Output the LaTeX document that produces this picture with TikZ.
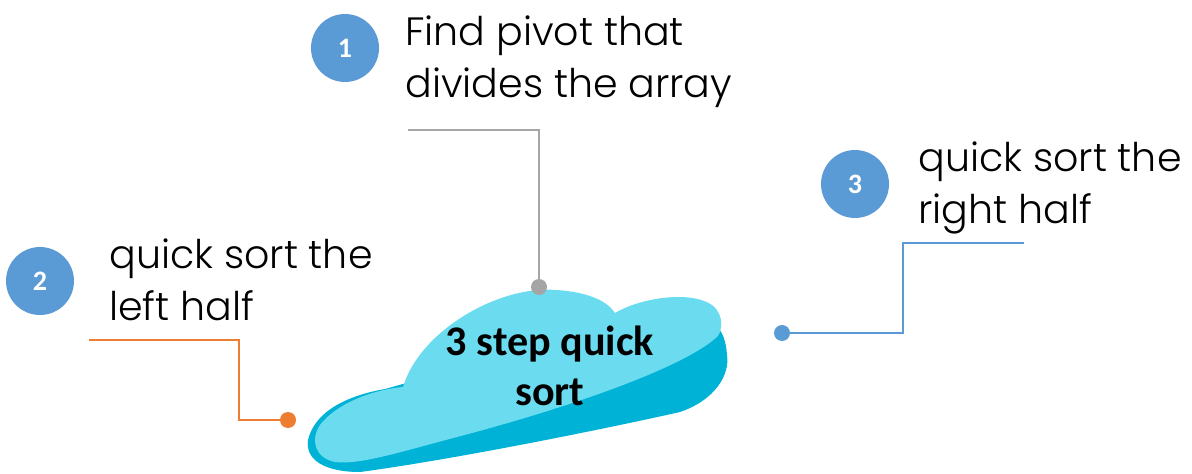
\documentclass[tikz,border=0pt]{standalone}
\usepackage{fontspec}
\setmainfont{Carlito}
\newfontfamily\thinfont{Poppins Light}
\definecolor{stepblue}{HTML}{5B9BD5}
\definecolor{pivgray}{HTML}{A5A5A5}
\definecolor{leftorange}{HTML}{ED7D31}
\definecolor{cloudtop}{HTML}{6BDCEF}
\definecolor{cloudside}{HTML}{00B3D6}
\begin{document}
\begin{tikzpicture}[x=0.02cm,y=-0.02cm,
   num/.style={circle,fill=stepblue,minimum size=68*0.02cm,inner sep=0pt,text=white,font=\fontsize{16}{18}\bfseries},
   lbl/.style={anchor=base west,inner sep=0pt,align=left,font=\thinfont\fontsize{22.5}{29.5}\selectfont},
   dot/.style={circle,inner sep=0pt,minimum size=16*0.02cm},
   lead/.style={line width=1.3pt}]
   \useasboundingbox (0,0) rectangle (1192,473);
   % cloud, side first then top
   \fill [cloudside] (385,389) .. controls (350,395) and (315,410) .. (308,440)
      .. controls (305,460) and (325,472) .. (360,472)
      .. controls (450,460) and (600,430) .. (680,412)
      .. controls (715,400) and (730,375) .. (727,355)
      .. controls (726,340) and (722,332) .. (718,328)
      -- (560,340) -- cycle;
   \fill [cloudtop] (403,387) .. controls (420,330) and (500,285) .. (556,290)
      .. controls (590,292) and (608,302) .. (615,313)
      .. controls (640,298) and (690,290) .. (712,305)
      .. controls (725,315) and (722,332) .. (717,337)
      .. controls (680,370) and (560,410) .. (457,437)
      .. controls (400,452) and (360,465) .. (335,462)
      .. controls (315,458) and (310,440) .. (320,425)
      .. controls (335,405) and (370,390) .. (403,387) -- cycle;
   \node [anchor=base,align=center,font=\fontsize{24}{28.4}\bfseries] (core) at (550,405) {3 step quick\\sort};
   % step 1
   \node [num] (n1) at (345,48) {1};
   \node [lbl] (t1) at (405,97) {Find pivot that\\divides the array};
   \coordinate (g0) at (408,130);
   \node [dot,fill=pivgray] (gdot) at (539,287) {};
   \draw [lead,pivgray] (g0) -| (gdot);
   % step 2
   \node [num] (n2) at (40,281) {2};
   \node [lbl] (t2) at (109,320) {quick sort the\\left half};
   \coordinate (o0) at (89,340);
   \coordinate (o1) at (239,340);
   \node [dot,fill=leftorange] (odot) at (288,420) {};
   \draw [lead,leftorange] (o0) -- (o1) |- (odot);
   % step 3
   \node [num] (n3) at (855,184) {3};
   \node [lbl] (t3) at (918,223) {quick sort the\\right half};
   \node [dot,fill=stepblue] (bdot) at (782,333) {};
   \coordinate (b1) at (903,243);
   \coordinate (b0) at (1024,243);
   \draw [lead,stepblue] (bdot) -| (b1) -- (b0);
\end{tikzpicture}
\end{document}
